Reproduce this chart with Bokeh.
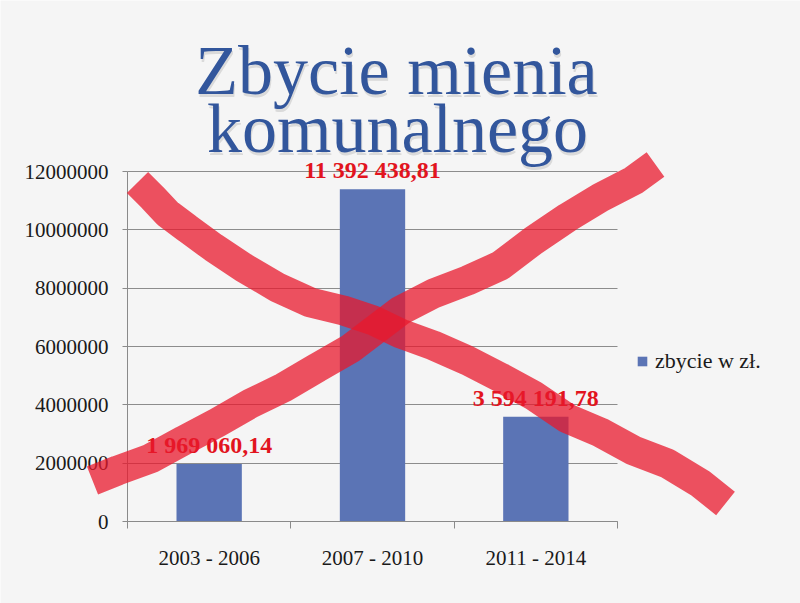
from bokeh.plotting import figure
from bokeh.models import (Range1d, LinearAxis, FixedTicker, SingleIntervalTicker, Grid,
                          BasicTickFormatter, LabelSet, Label, Legend, LegendItem,
                          PolyAnnotation, ColumnDataSource)
from bokeh.core.properties import value
from bokeh.embed import file_html
from bokeh.resources import INLINE

# ---- data ----
title_lines = ["Zbycie mienia", "komunalnego"]
categories = ["2003 - 2006", "2007 - 2010", "2011 - 2014"]
values = [1969060.14, 11392438.81, 3594191.78]
series_name = "zbycie w zł."
y_max = 12000000
y_step = 2000000


def pl_format(v):
    s = f"{v:,.2f}"
    return s.replace(",", " ").replace(".", ",")


labels = [pl_format(v) for v in values]
n = len(categories)
centers = [i + 0.5 for i in range(n)]          # category slots on the axis
boundaries = list(range(n + 1))

# ---- layout (canvas pixels) ----
W, H = 800, 603
PL, PR, PT, PB = 127, 617, 171, 521   # plotting area edges
SERIF = "Liberation Serif"
BG = "#F5F5F5"
GRAY = "#8A8A8A"

# the frame spans the whole canvas so the overlay may run past the axes
xu = n / (PR - PL)
yu = y_max / (PB - PT)
x_range = Range1d(-PL * xu, n + (W - PR) * xu)
y_range = Range1d(-(H - PB) * yu, y_max + PT * yu)

p = figure(x_range=x_range, y_range=y_range, width=W, height=H,
           output_backend="svg", toolbar_location=None,
           x_axis_type=None, y_axis_type=None,
           min_border=0, min_border_left=0, min_border_right=0,
           min_border_top=0, min_border_bottom=0)
p.border_fill_color = BG
p.background_fill_color = BG
p.outline_line_color = None
p.grid.visible = False

src = ColumnDataSource(dict(x=centers, cat=categories, val=values, lbl=labels))
bars = p.vbar(x="x", top="val", width=0.4, source=src,
              fill_color="#5B74B5", line_color=None)

# y axis
yticker = SingleIntervalTicker(interval=y_step, num_minor_ticks=0)
yaxis = LinearAxis(fixed_location=0, bounds=(0, y_max), ticker=yticker,
                   formatter=BasicTickFormatter(use_scientific=False),
                   axis_line_color=GRAY, major_tick_line_color=GRAY,
                   major_tick_out=5, major_tick_in=0, minor_tick_line_color=None,
                   major_label_standoff=14, major_label_text_font=SERIF,
                   major_label_text_font_size="21px", major_label_text_color="#1A1A1A")
p.add_layout(yaxis, "left")

# x axis: labels at slot centres, ticks at slot boundaries
xaxis = LinearAxis(fixed_location=0, bounds=(0, n),
                   ticker=FixedTicker(ticks=centers, minor_ticks=boundaries),
                   major_label_overrides={c: t for c, t in zip(centers, categories)},
                   axis_line_color=GRAY, major_tick_line_color=None,
                   major_tick_out=0, major_tick_in=0,
                   minor_tick_line_color=GRAY, minor_tick_out=7, minor_tick_in=0,
                   major_label_standoff=17, major_label_text_font=SERIF,
                   major_label_text_font_size="21px", major_label_text_color="#1A1A1A")
p.add_layout(xaxis, "below")

# horizontal grid limited to the plotting area
grid = Grid(dimension=1, ticker=yticker, bounds=(0, y_max),
            grid_line_color="#8C8C8C", grid_line_width=1)
if "cross_bounds" in Grid.properties():
    grid.cross_bounds = (0, n)
    p.add_layout(grid)
else:
    yaxis.major_tick_in = PR - PL
    yaxis.major_tick_line_color = "#8C8C8C"

# value labels
p.add_layout(LabelSet(x="x", y="val", text="lbl", source=src, text_align="center",
                      text_baseline="alphabetic", y_offset=11,
                      text_font=value(SERIF), text_font_style="bold",
                      text_font_size="24px", text_color="#E2141E"))

# legend
legend = Legend(items=[LegendItem(label=series_name, renderers=[bars])],
                location=(636, H - 374), orientation="vertical",
                background_fill_alpha=0, border_line_color=None,
                glyph_width=12, glyph_height=12, label_standoff=7,
                padding=2, margin=0, label_text_font=SERIF,
                label_text_font_size="22px", label_text_color="#1A1A1A")
p.add_layout(legend)


def make_label(**kw):
    try:
        return Label(text_font=value(SERIF), **kw)
    except Exception:
        return Label(text_font=SERIF, **kw)


# title (two lines with soft shadow)
title_pos = [(396, 70), (397, 128)]
for (cx, by), t in zip(title_pos, title_lines):
    p.add_layout(make_label(x=cx + 1, y=H - by - 3, x_units="screen", y_units="screen",
                            text=t, text_align="center", text_baseline="alphabetic",
                            text_font_size="70px", text_color="#6E6E6E", text_alpha=0.2))
    p.add_layout(make_label(x=cx, y=H - by, x_units="screen", y_units="screen",
                            text=t, text_align="center", text_baseline="alphabetic",
                            text_font_size="70px", text_color="#32569C"))

# hand-drawn red cross over the chart (decoration, canvas pixels)
stroke_down = [(137, 182), (152, 197), (167, 213), (187, 228), (213, 247), (243, 267),
               (277, 287), (310, 302), (343, 310), (373, 320), (400, 333), (433, 345),
               (467, 360), (500, 377), (533, 395), (567, 418), (600, 432), (633, 450),
               (667, 463), (700, 483), (725, 503)]
stroke_up = [(92, 480), (117, 470), (150, 458), (183, 440), (217, 422), (250, 403),
             (283, 387), (317, 367), (350, 348), (400, 310), (433, 293), (467, 280),
             (500, 265), (533, 240), (567, 217), (600, 197), (633, 180), (655, 164)]

for stroke in (stroke_down, stroke_up):
    path = stroke + stroke[-2:0:-1]
    xs = [px for px, py in path]
    ys = [H - py for px, py in path]
    p.add_layout(PolyAnnotation(xs=xs, ys=ys, xs_units="screen", ys_units="screen",
                                fill_color=None, fill_alpha=0,
                                line_color="#E8182C", line_alpha=0.75, line_width=30,
                                line_join="bevel", level="overlay"))

open("out.html", "w").write(file_html(p, INLINE))
